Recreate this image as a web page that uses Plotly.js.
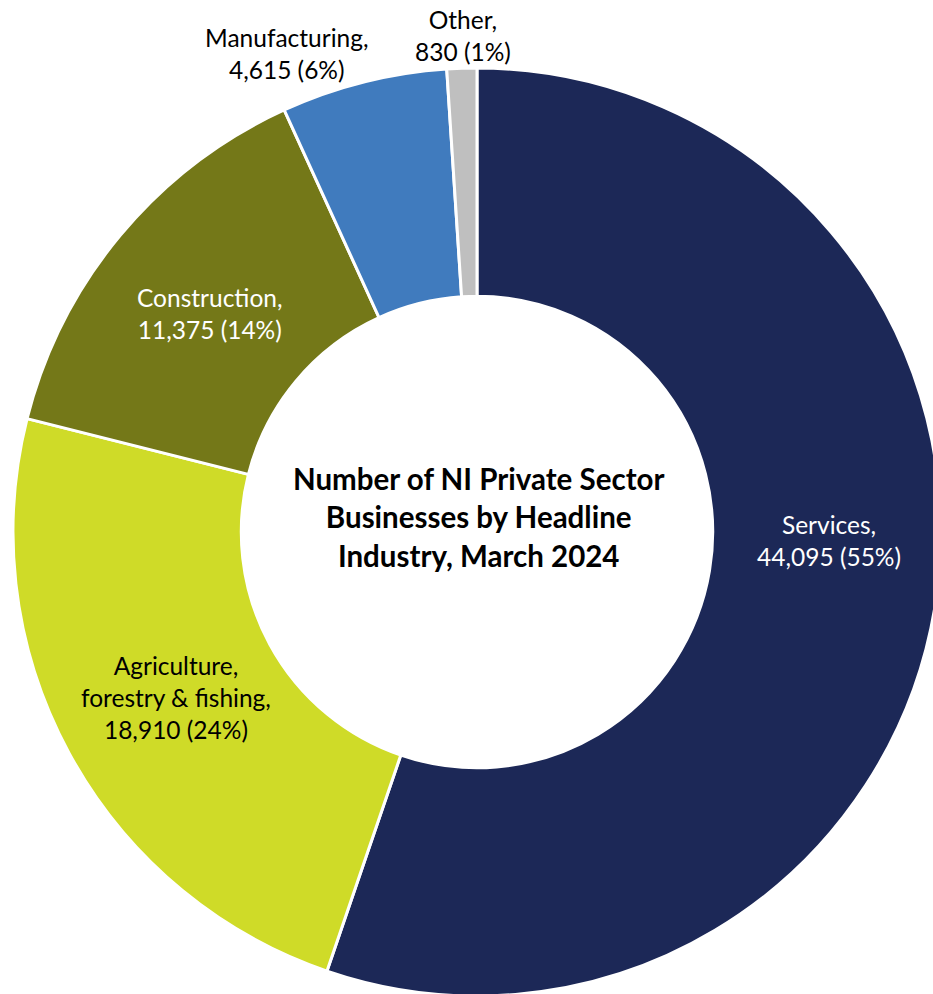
<!DOCTYPE html>
<html>
<head>
<meta charset="utf-8">
<script src="https://cdn.plot.ly/plotly-3.0.1.min.js"></script>
<style>
html, body { margin: 0; padding: 0; overflow: hidden; background: #fff; width: 933px; height: 994px; }
#chart { position: absolute; left: 0; top: 0; }
</style>
</head>
<body>
<div id="chart"></div>
<script>
// ---- data ----
const categories = ['Services', 'Agriculture, forestry & fishing', 'Construction', 'Manufacturing', 'Other'];
const businesses = [44095, 18910, 11375, 4615, 830];
const chartTitle = 'Number of NI Private Sector<br>Businesses by Headline<br>Industry, March 2024';

// ---- styles / layout ----
const sliceColors = ['#1C2857', '#CFDB28', '#747818', '#407BBE', '#BFBFBF'];
const labelColors = ['#FFFFFF', '#000000', '#FFFFFF', '#000000', '#000000'];
const labelPixelPos = [[829, 540], [176, 697], [210, 313], [287, 54], [463, 36]];

const W = 950, H = 1010;
const cx = 477, cy = 532, R = 464;
const m = { l: cx - R, t: cy - R, r: W - (cx + R), b: H - (cy + R) };
const pw = W - m.l - m.r, ph = H - m.t - m.b;
const toPaper = (px, py) => [(px - m.l) / pw, 1 - (py - m.t) / ph];

const total = businesses.reduce((a, b) => a + b, 0);
const fmt = v => v.toLocaleString('en-GB');

const annotations = categories.map((c, i) => {
  const [x, y] = toPaper(labelPixelPos[i][0], labelPixelPos[i][1]);
  return {
    xref: 'paper', yref: 'paper', x: x, y: y,
    xanchor: 'center', yanchor: 'middle', align: 'center', showarrow: false,
    text: c.replace(', ', ',<br>') + ',<br>' + fmt(businesses[i]) + ' (' + Math.round(businesses[i] / total * 100) + '%)',
    font: { family: 'Lato, "Open Sans", sans-serif', size: 24.5, color: labelColors[i] }
  };
});
const tc = toPaper(cx + 1, 517);
annotations.push({
  xref: 'paper', yref: 'paper', x: tc[0], y: tc[1],
  xanchor: 'center', yanchor: 'middle', align: 'center', showarrow: false,
  text: '<b>' + chartTitle + '</b>',
  font: { family: 'Lato, "Open Sans", sans-serif', size: 29.5, color: '#000000' }
});

const trace = {
  type: 'pie',
  labels: categories,
  values: businesses,
  hole: 0.508,
  sort: false,
  direction: 'clockwise',
  rotation: 0,
  textinfo: 'none',
  hoverinfo: 'skip',
  marker: { colors: sliceColors, line: { color: '#FFFFFF', width: 3 } },
  domain: { x: [0, 1], y: [0, 1] }
};

Plotly.newPlot('chart', [trace], {
  width: W, height: H,
  margin: m,
  showlegend: false,
  paper_bgcolor: '#FFFFFF',
  plot_bgcolor: '#FFFFFF',
  annotations: annotations
}, { staticPlot: true, displayModeBar: false });
</script>
</body>
</html>
